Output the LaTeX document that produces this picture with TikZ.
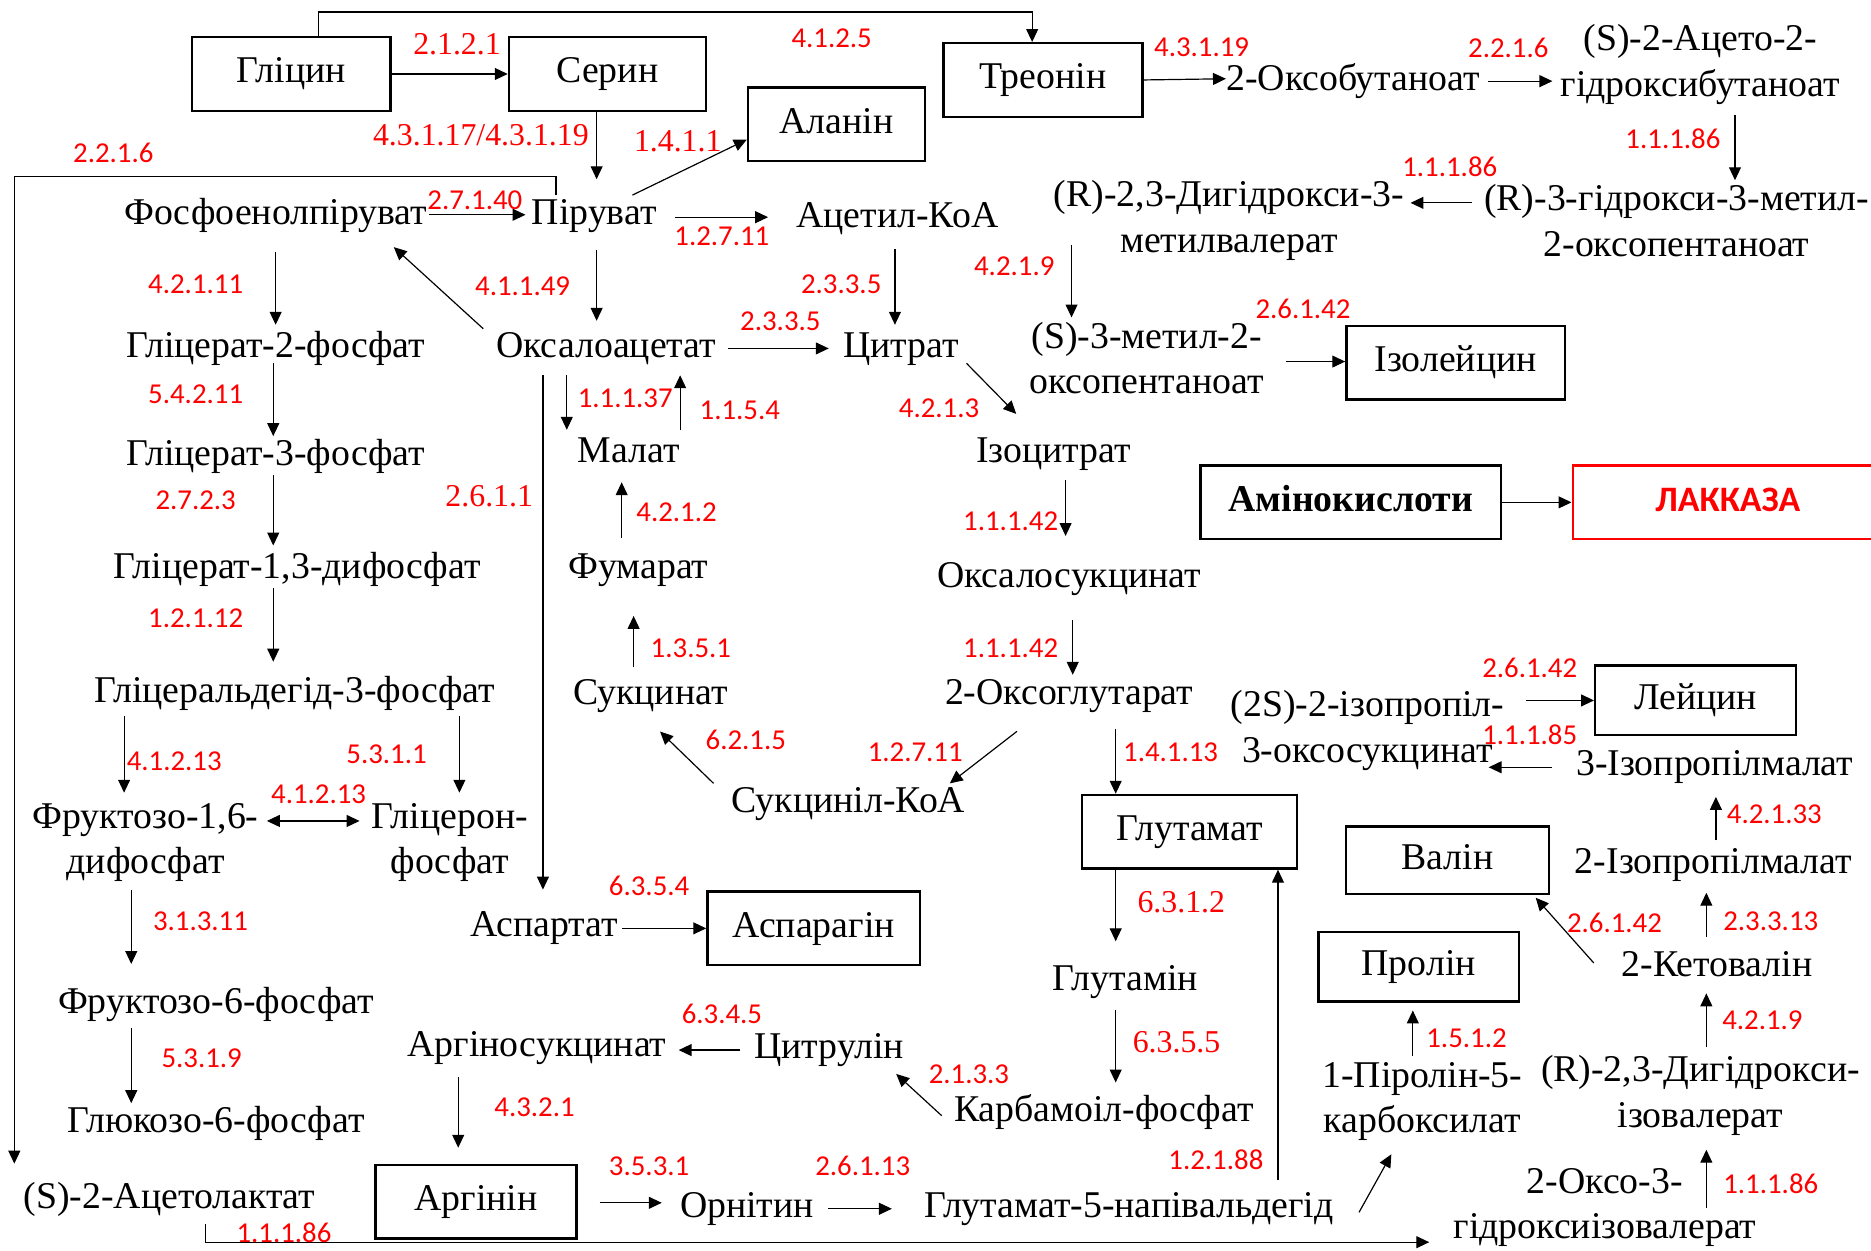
\documentclass[tikz,border=0pt]{standalone}
\usepackage{fontspec}
\setmainfont{Liberation Serif}
\newfontfamily\calfont{Carlito}
\usetikzlibrary{arrows.meta,calc,positioning}

\tikzset{
  >={Triangle[length=6.5pt,width=6pt]},
  met/.style={font=\fontsize{19}{23}\selectfont, inner sep=0pt, text height=14.5pt, text depth=2.5pt},
  mett/.style={font=\fontsize{19}{23}\selectfont, inner sep=0pt, align=center},
  amino/.style={draw, line width=1.2pt, font=\fontsize{19}{23}\selectfont, minimum height=37pt, inner sep=0pt, text height=13pt, text depth=4pt},
  ec/.style={font=\calfont\fontsize{14.5}{17}\selectfont, text=red, inner sep=0pt},
  ecs/.style={font=\fontsize{16}{19}\selectfont, text=red, inner sep=0pt},
  arr/.style={->, line width=0.6pt},
  biarr/.style={<->, line width=0.6pt},
}

\begin{document}
\begin{tikzpicture}[x=0.6pt, y=-0.6pt]
  \useasboundingbox (0,0) rectangle (1568,1048);

  % amino acids (boxes)
  \node[amino, minimum width=100pt] (gly) at (244,62) {Гліцин};
  \node[amino, minimum width=99pt] (ser) at (509,62) {Серин};
  \node[amino, minimum width=100pt] (thr) at (874,67) {Треонін};
  \node[amino, minimum width=89pt] (ala) at (701,104) {Аланін};
  \node[amino, minimum width=110pt] (ile) at (1220,304) {Ізолейцин};
  \node[amino, minimum width=151pt, font=\fontsize{19}{23}\selectfont\bfseries] (aa) at (1132,421) {Амінокислоти};
  \node[amino, minimum width=156pt, draw=red, text=red, font=\calfont\bfseries\fontsize{18}{21}\selectfont] (lac) at (1448,421) {ЛАККАЗА};
  \node[amino, minimum width=101pt, minimum height=35pt] (leu) at (1421,587) {Лейцин};
  \node[amino, minimum width=108pt] (glu) at (997,697) {Глутамат};
  \node[amino, minimum width=102pt, minimum height=34pt] (val) at (1213,721) {Валін};
  \node[amino, minimum width=101pt, minimum height=35pt] (pro) at (1189,810) {Пролін};
  \node[amino, minimum width=107pt] (asn) at (682,778) {Аспарагін};
  \node[amino, minimum width=101pt] (arg) at (399,1007) {Аргінін};

  % glycolysis
  \node[met] (fep) at (231,178) {Фосфоенолпіруват};
  \node[met] (gl2) at (231,290) {Гліцерат-2-фосфат};
  \node[met] (gl3) at (231,380) {Гліцерат-3-фосфат};
  \node[met] (gl13) at (249,475) {Гліцерат-1,3-дифосфат};
  \node[met] (gald) at (247,579) {Гліцеральдегід-3-фосфат};
  \node[mett] (fr16) at (122,706) {Фруктозо-1,6-\\дифосфат};
  \node[mett] (glp) at (377,706) {Гліцерон-\\фосфат};
  \node[met] (fr6) at (181,839) {Фруктозо-6-фосфат};
  \node[met] (glc6) at (181,939) {Глюкозо-6-фосфат};
  \node[met] (acl) at (142,1003) {(S)-2-Ацетолактат};

  % TCA cycle
  \node[met] (pir) at (498,178) {Піруват};
  \node[met] (acoa) at (752,181) {Ацетил-КоА};
  \node[met] (oaa) at (508,290) {Оксалоацетат};
  \node[met] (cit) at (755,290) {Цитрат};
  \node[met] (mal) at (527,378) {Малат};
  \node[met] (icit) at (883,378) {Ізоцитрат};
  \node[met] (fum) at (535,475) {Фумарат};
  \node[met] (osuc) at (896,482) {Оксалосукцинат};
  \node[met] (suc) at (545,580) {Сукцинат};
  \node[met] (oglu) at (896,580) {2-Оксоглутарат};
  \node[met] (scoa) at (711,671) {Сукциніл-КоА};
  \node[met] (asp) at (456,775) {Аспартат};

  % urea cycle, proline
  \node[met] (gln) at (943,820) {Глутамін};
  \node[met] (cp) at (925,930) {Карбамоіл-фосфат};
  \node[met] (citr) at (695,877) {Цитрулін};
  \node[met] (asuc) at (450,875) {Аргіносукцинат};
  \node[met] (orn) at (626,1010) {Орнітин};
  \node[met] (g5s) at (946,1010) {Глутамат-5-напівальдегід};
  \node[mett] (p5c) at (1192,923) {1-Піролін-5-\\карбоксилат};

  % branched chain
  \node[met] (oxb) at (1134,66) {2-Оксобутаноат};
  \node[mett] (ahb) at (1425,54) {(S)-2-Ацето-2-\\гідроксибутаноат};
  \node[mett] (hmo) at (1405,185) {(R)-3-гідрокси-3-метил-\\2-оксопентаноат};
  \node[mett] (dmv) at (1030,185) {(R)-2,3-Дигідрокси-3-\\метилвалерат};
  \node[mett] (mop) at (961,300) {(S)-3-метил-2-\\оксопентаноат};
  \node[mett] (ipos) at (1146,612) {(2S)-2-ізопропіл-\\3-оксосукцинат};
  \node[met] (ipm3) at (1437,640) {3-Ізопропілмалат};
  \node[met] (ipm2) at (1436,722) {2-Ізопропілмалат};
  \node[met] (kval) at (1439,808) {2-Кетовалін};
  \node[mett] (dhiv) at (1425,918) {(R)-2,3-Дигідрокси-\\ізовалерат};
  \node[mett] (ohiv) at (1345,1012) {2-Оксо-3-\\гідроксиізовалерат};

  % glycine, serine, pyruvate
  \draw[arr] (gly) -- (ser) node[ecs] (l1) at (383,37) {2.1.2.1};
  \draw[arr] (gly.north -| 267,0) -- (267,10) -| (thr.north -| 865,0) node[ec] (l2) at (697,32) {4.1.2.5};
  \draw[arr, shorten >=8pt] (ser.south -| 500,0) -- (pir.north -| 500,0) node[ecs] (l3) at (403,113) {4.3.1.17/4.3.1.19};
  \draw[arr] (pir.north -| 530,0) -- (ala.west |- 0,117) node[ecs] (l4) at (568,118) {1.4.1.1};
  \draw[arr, shorten <=1pt, shorten >=3pt] (fep.east |- 0,180) -- (pir.west |- 0,180) node[ec] (l5) at (398,168) {2.7.1.40};
  \draw[arr, shorten <=9pt, shorten >=14pt] (pir.east |- 0,182) -- (acoa.west |- 0,182) node[ec] (l6) at (605,198) {1.2.7.11};
  \draw[arr, shorten >=8pt] (pir.north -| 466,0) |- (12,148) -- (acl.north -| 12,0) node[ec] (l7) at (95,128) {2.2.1.6};
  \draw[arr, shorten <=10pt, shorten >=4pt] (pir.south -| 500,0) -- (oaa.north -| 500,0);
  \draw[arr, shorten >=13pt] (oaa.north -| 405,0) -- (fep.south -| 314,0) node[ec] (l8) at (438,240) {4.1.1.49};

  % glycolysis
  \draw[arr, shorten <=11pt, shorten >=2pt] (fep.south -| 231,0) -- (gl2.north -| 231,0) node[ec] (l9) at (164,238) {4.2.1.11};
  \draw[arr] (gl2.south -| 229,0) -- (gl3.north -| 229,0) node[ec] (l10) at (164,330) {5.4.2.11};
  \draw[arr, shorten <=2pt, shorten >=2pt] (gl3.south -| 229,0) -- (gl13.north -| 229,0) node[ec] (l11) at (164,419) {2.7.2.3};
  \draw[arr, shorten <=2pt, shorten >=6pt] (gl13.south -| 229,0) -- (gald.north -| 229,0) node[ec] (l12) at (164,518) {1.2.1.12};
  \draw[arr, shorten <=4pt, shorten >=5pt] (gald.south -| 104,0) -- (fr16.north -| 104,0) node[ec] (l13) at (146,638) {4.1.2.13};
  \draw[arr, shorten <=4pt, shorten >=5pt] (gald.south -| 385,0) -- (glp.north -| 385,0) node[ec] (l14) at (324,632) {5.3.1.1};
  \draw[biarr, shorten <=4pt, shorten >=6pt] (fr16.east |- 0,688) -- (glp.west |- 0,688) node[ec] (l15) at (267,666) {4.1.2.13};
  \draw[arr, shorten <=4pt, shorten >=10pt] (fr16.south -| 110,0) -- (fr6.north -| 110,0) node[ec] (l16) at (168,772) {3.1.3.11};
  \draw[arr, shorten <=5pt] (fr6.south -| 110,0) -- (glc6.north -| 110,0) node[ec] (l17) at (169,887) {5.3.1.9};

  % TCA cycle
  \draw[arr, shorten <=6pt, shorten >=9pt] (oaa.south -| 455,0) -- (asp.north -| 455,0) node[ecs] (l18) at (410,416) {2.6.1.1};
  \draw[arr, shorten <=6pt, shorten >=2pt] (oaa.south -| 475,0) -- (mal.north -| 475,0) node[ec] (l19) at (524,334) {1.1.1.37};
  \draw[arr, shorten <=2pt, shorten >=6pt] (mal.north -| 570,0) -- (oaa.south -| 570,0) node[ec] (l20) at (620,344) {1.1.5.4};
  \draw[arr, shorten <=6pt, shorten >=7pt] (oaa.east |- 0,292) -- (cit.west |- 0,292) node[ec] (l21) at (654,269) {2.3.3.5};
  \draw[arr, shorten <=8pt, shorten >=2pt] (acoa.south -| 750,0) -- (cit.north -| 750,0) node[ec] (l22) at (705,238) {2.3.3.5};
  \draw[arr, shorten >=14pt] (cit.south -| 810,0) -- (icit.north -| 868,0) node[ec] (l23) at (787,342) {4.2.1.3};
  \draw[arr, shorten <=6pt, shorten >=11pt] (icit.south -| 893,0) -- (osuc.north -| 893,0) node[ec] (l24) at (847,437) {1.1.1.42};
  \draw[arr, shorten <=14pt] (osuc.south -| 899,0) -- (oglu.north -| 899,0) node[ec] (l25) at (847,543) {1.1.1.42};
  \draw[arr, shorten <=18pt] (oglu.south -| 876,0) -- (scoa.north -| 796,0) node[ec] (l26) at (767,630) {1.2.7.11};
  \draw[arr, shorten >=16pt] (scoa.north -| 598,0) -- (suc.south -| 534,0) node[ec] (l27) at (625,620) {6.2.1.5};
  \draw[arr, shorten <=4pt, shorten >=16pt] (suc.north -| 531,0) -- (fum.south -| 531,0) node[ec] (l28) at (579,543) {1.3.5.1};
  \draw[arr, shorten <=6pt, shorten >=7pt] (fum.north -| 521,0) -- (mal.south -| 521,0) node[ec] (l29) at (567,429) {4.2.1.2};

  % glutamate, urea cycle, proline
  \draw[arr, shorten <=10pt] (oglu.south -| 935,0) -- (glu.north -| 935,0) node[ec] (l30) at (981,630) {1.4.1.13};
  \draw[arr, shorten >=10pt] (glu.south -| 935,0) -- (gln.north -| 935,0) node[ecs] (l31) at (990,756) {6.3.1.2};
  \draw[arr, shorten <=7pt, shorten >=5pt] (gln.south -| 935,0) -- (cp.north -| 935,0) node[ecs] (l32) at (986,873) {6.3.5.5};
  \draw[arr] ($(cp.west)+(-10,5)$) -- ($(citr.east)+(-7,23)$) node[ec] (l33) at (812,900) {2.1.3.3};
  \draw[arr, shorten <=7pt, shorten >=6pt] (citr.west |- 0,880) -- (asuc.east |- 0,880) node[ec] (l34) at (605,850) {6.3.4.5};
  \draw[arr, shorten <=8pt, shorten >=8pt] (asuc.south -| 384,0) -- (arg.north -| 384,0) node[ec] (l35) at (448,928) {4.3.2.1};
  \draw[arr, shorten <=11pt, shorten >=9pt] (arg.east |- 0,1008) -- (orn.west |- 0,1008) node[ec] (l36) at (544,977) {3.5.3.1};
  \draw[arr, shorten <=7pt, shorten >=16pt] (orn.east |- 0,1013) -- (g5s.west |- 0,1013) node[ec] (l37) at (723,977) {2.6.1.13};
  \draw[arr, shorten <=4pt] (g5s.north -| 1071,0) -- (glu.south -| 1071,0) node[ec] (l38) at (1019,972) {1.2.1.88};
  \draw[arr] ($(g5s.east)+(21,6)$) -- ($(p5c.south)+(-26,11)$);
  \draw[arr, shorten <=3pt, shorten >=4pt] (p5c.north -| 1184,0) -- (pro.south -| 1184,0) node[ec] (l39) at (1229,870) {1.5.1.2};
  \draw[arr, shorten <=2pt] (asp.east |- 0,778) -- (asn.west |- 0,778) node[ec] (l40) at (544,742) {6.3.5.4};

  % valine, leucine
  \draw[arr, shorten <=5pt, shorten >=12pt] (acl.south -| 172,0) |- (ohiv.west |- 0,1041) node[ec] (l41) at (238,1033) {1.1.1.86};
  \draw[arr, shorten >=7pt] (ohiv -| 1430,0) -- (dhiv.south -| 1430,0) node[ec] (l42) at (1484,992) {1.1.1.86};
  \draw[arr, shorten <=4pt, shorten >=6pt] (dhiv.north -| 1430,0) -- (kval.south -| 1430,0) node[ec] (l43) at (1477,855) {4.2.1.9};
  \draw[arr, shorten <=5pt, shorten >=7pt] (kval.north -| 1430,0) -- (ipm2.south -| 1430,0) node[ec] (l44) at (1484,772) {2.3.3.13};
  \draw[arr] ($(kval.west)+(-23,-1)$) -- ($(val.south east)+(-12,2)$) node[ec] (l45) at (1353,773) {2.6.1.42};
  \draw[arr, shorten <=2pt, shorten >=8pt] (ipm2.north -| 1438,0) -- (ipm3.south -| 1438,0) node[ec] (l46) at (1487,682) {4.2.1.33};
  \draw[arr, shorten <=12pt, shorten >=-8pt] (ipm3.west |- 0,643) -- (ipos.east |- 0,643) node[ec] (l47) at (1282,616) {1.1.1.85};
  \draw[arr, shorten <=11pt] (ipos.east |- 0,587) -- (leu.west |- 0,587) node[ec] (l48) at (1282,560) {2.6.1.42};

  % isoleucine
  \draw[arr] (thr.east) -- (oxb.west) node[ec] (l49) at (1007,40) {4.3.1.19};
  \draw[arr, shorten <=4pt, shorten >=4pt] (oxb.east |- 0,68) -- (ahb.west |- 0,68) node[ec] (l50) at (1264,40) {2.2.1.6};
  \draw[arr, shorten <=5pt, shorten >=2pt] (ahb.south -| 1454,0) -- (hmo.north -| 1454,0) node[ec] (l51) at (1402,116) {1.1.1.86};
  \draw[arr, shorten <=6pt, shorten >=3pt] (hmo.west |- 0,170) -- (dmv.east |- 0,170) node[ec] (l52) at (1215,140) {1.1.1.86};
  \draw[arr, shorten <=12pt, shorten >=2pt] (dmv -| 898,0) -- (mop.north -| 898,0) node[ec] (l53) at (850,223) {4.2.1.9};
  \draw[arr, shorten <=11pt] (mop.east |- 0,303) -- (ile.west |- 0,303) node[ec] (l54) at (1092,259) {2.6.1.42};

  \draw[arr] (aa) -- (lac);
\end{tikzpicture}
\end{document}
